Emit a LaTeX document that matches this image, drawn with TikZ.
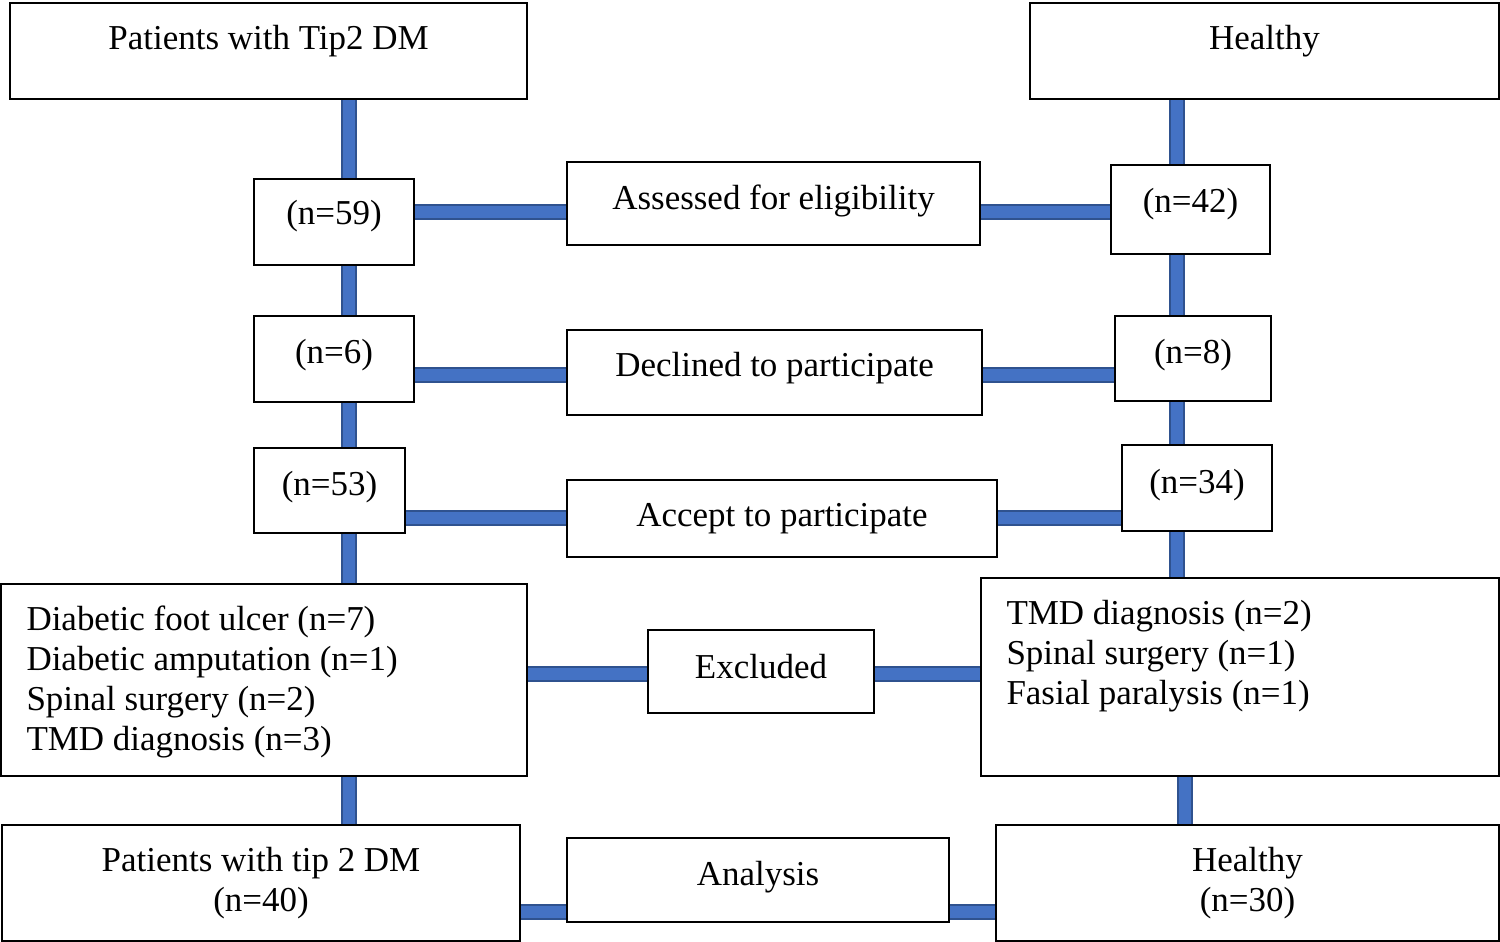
\documentclass[tikz,border=0pt]{standalone}
\usepackage{fontspec}
\setmainfont{Liberation Serif}
\usepackage{xcolor}
\definecolor{pipeblue}{HTML}{4472C4}
\definecolor{pipeedge}{HTML}{2F528F}
\usepackage{tikz}
\usetikzlibrary{positioning,backgrounds}
\newcommand\flowfont{\fontsize{19.9}{22.7}\selectfont}

\tikzset{
  box/.style={draw=black, fill=white, line width=1pt, inner sep=0pt},
  pipe/.style={draw=pipeedge, line width=1.2pt, double=pipeblue,
               double distance=6.6pt}
}

\begin{document}
\begin{tikzpicture}[x=0.02cm, y=-0.02cm, font=\flowfont]
  \useasboundingbox (0,0) rectangle (1500,942);

  %% Column headers
  \node[box, minimum width=10.34cm, minimum height=1.92cm,
        label={[yshift=0.2cm]center:Patients with Tip2 DM}]
    (t2dm) at (268.5,51) {};
  \node[box, minimum width=9.38cm, minimum height=1.92cm,
        label={[yshift=0.2cm]center:Healthy}]
    (healthy) at (1264.5,51) {};

  %% Stage labels in the middle
  \node[box, minimum width=8.26cm, minimum height=1.66cm,
        label={[yshift=0.05cm]center:Assessed for eligibility}]
    (assess) at (773.5,203.5) {};
  \node[box, minimum width=8.3cm, minimum height=1.7cm,
        label={[yshift=0.09cm]center:Declined to participate}]
    (decl) at (774.5,372.5) {};
  \node[box, minimum width=8.6cm, minimum height=1.54cm,
        label={[yshift=-0.01cm]center:Accept to participate}]
    (accept) at (782,518.5) {};
  \node[box, minimum width=4.52cm, minimum height=1.66cm,
        label={[yshift=0.09cm]center:Excluded}]
    (excl) at (761,671.5) {};
  \node[box, minimum width=7.64cm, minimum height=1.68cm,
        label={[yshift=0.06cm]center:Analysis}]
    (anal) at (758,880) {};

  %% Patient counts (left)
  \node[box, minimum width=3.2cm, minimum height=1.72cm,
        label={[yshift=0.12cm]center:(n=59)}] (n59) at (334,222) {};
  \node[box, minimum width=3.2cm, minimum height=1.72cm,
        label={[yshift=0.08cm]center:(n=6)}] (n6) at (334,359) {};
  \node[box, minimum width=3.02cm, minimum height=1.7cm,
        label={[yshift=0.07cm]center:(n=53)}] (n53) at (329.5,490.5) {};

  %% Healthy counts (right)
  \node[box, minimum width=3.18cm, minimum height=1.78cm,
        label={[yshift=0.11cm]center:(n=42)}] (n42) at (1190.5,209.5) {};
  \node[box, minimum width=3.12cm, minimum height=1.7cm,
        label={[yshift=0.07cm]center:(n=8)}] (n8) at (1193,358.5) {};
  \node[box, minimum width=3.0cm, minimum height=1.72cm,
        label={[yshift=0.06cm]center:(n=34)}] (n34) at (1197,488) {};

  %% Exclusion reasons
  \node[box, minimum width=10.52cm, minimum height=3.84cm,
        label={[anchor=west, align=left, inner sep=0pt,
                xshift=0.52cm, yshift=-0.04cm]west:Diabetic foot ulcer (n=7)\\
                Diabetic amputation (n=1)\\Spinal surgery (n=2)\\
                TMD diagnosis (n=3)}]
    (exL) at (264,680) {};
  \node[box, minimum width=10.36cm, minimum height=3.96cm,
        label={[anchor=west, align=left, inner sep=0pt,
                xshift=0.52cm, yshift=0.42cm]west:TMD diagnosis (n=2)\\
                Spinal surgery (n=1)\\Fasial paralysis (n=1)}]
    (exR) at (1240,677) {};

  %% Final groups
  \node[box, minimum width=10.36cm, minimum height=2.32cm,
        label={[align=center, yshift=0.0cm]center:Patients with tip 2 DM\\(n=40)}]
    (anL) at (261,883) {};
  \node[box, minimum width=10.06cm, minimum height=2.32cm,
        label={[align=center, yshift=0.0cm]center:Healthy\\(n=30)}]
    (anR) at (1247.5,883) {};

  %% Pipe guides
  \coordinate (pl) at (349,0);
  \coordinate (pr) at (1177,0);
  \coordinate (pr2) at (1185,0);
  \coordinate (r1) at (0,212);
  \coordinate (r2) at (0,375);
  \coordinate (r3) at (0,518);
  \coordinate (r4) at (0,674);
  \coordinate (r5) at (0,912);

  %% Connectors behind the boxes
  \begin{scope}[on background layer]
    \draw[pipe] (t2dm.south -| pl) -- (anL.north -| pl);
    \draw[pipe] (healthy.south -| pr) -- (exR.north -| pr);
    \draw[pipe] (exR.south -| pr2) -- (anR.north -| pr2);
    \draw[pipe] (n59.east |- r1) -- (n42.west |- r1);
    \draw[pipe] (n6.east |- r2) -- (n8.west |- r2);
    \draw[pipe] (n53.east |- r3) -- (n34.west |- r3);
    \draw[pipe] (exL.east |- r4) -- (exR.west |- r4);
    \draw[pipe] (anL.east |- r5) -- (anR.west |- r5);
  \end{scope}

\end{tikzpicture}
\end{document}
